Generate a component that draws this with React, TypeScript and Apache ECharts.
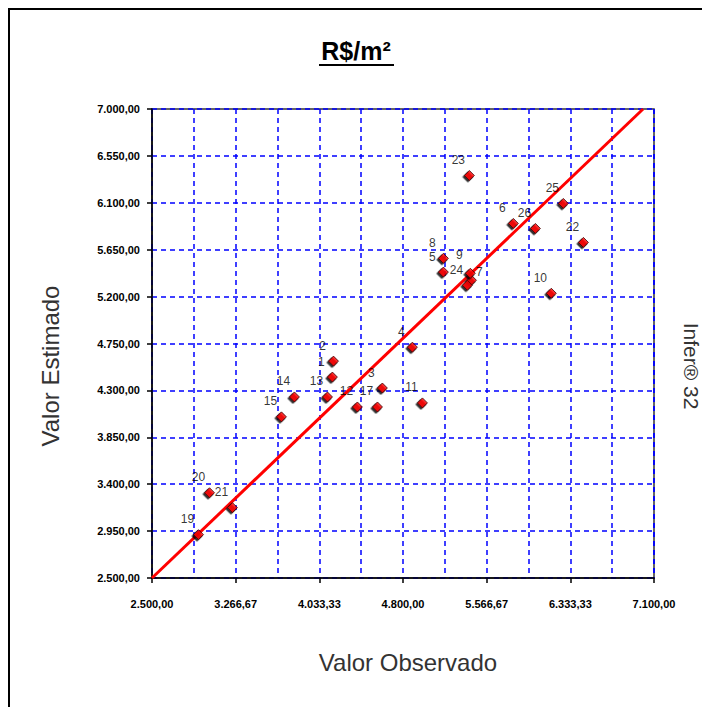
import { useEffect, useRef } from 'react';
import * as echarts from 'echarts';

const pointIds = ['1', '2', '3', '4', '5', '6', '7', '8', '9', '10', '11', '12', '13', '14', '15', '17', '19', '20', '21', '22', '23', '24', '25', '26'];
const observed = [4153, 4163, 4611, 4886, 5170, 5811, 5427, 5170, 5417, 6159, 4978, 4382, 4108, 3805, 3686, 4566, 2926, 3027, 3237, 6453, 5408, 5390, 6269, 6013];
const estimated = [4428, 4581, 4323, 4715, 5435, 5902, 5357, 5567, 5424, 5232, 4180, 4141, 4237, 4237, 4046, 4141, 2916, 3318, 3175, 5720, 6362, 5309, 6094, 5854];

const xRange = [2500, 7100];
const yRange = [2500, 7000];
const xLabelCount = 6;
const yStep = 450;
const identityLine = [2500, 7000];

const titleText = 'R$/m²';
const xName = 'Valor Observado';
const yName = 'Valor Estimado';
const sideText = 'Infer® 32';

const FONT = "Arial, 'Liberation Sans', sans-serif";

function fmt(v: number): string {
  const s = (Math.round(v * 100) / 100).toFixed(2);
  const [i, d] = s.split('.');
  return i.replace(/\B(?=(\d{3})+(?!\d))/g, '.') + ',' + d;
}

export default function App() {
  const ref = useRef<HTMLDivElement>(null);
  useEffect(() => {
    if (!ref.current) return;
    const chart = echarts.init(ref.current, null, { renderer: 'svg' });
    const xStep = (xRange[1] - xRange[0]) / xLabelCount;
    const gridLine = { show: true, lineStyle: { color: '#0000ff', width: 1.5, type: [5, 4] as any } };
    const points = observed.map((x, i) => {
      const item: any = { name: pointIds[i], value: [x, estimated[i]] };
      if (pointIds[i] === '7') item.label = { offset: [8, 7] };
      if (pointIds[i] === '9') item.label = { offset: [-11, -3] };
      return item;
    });
    chart.setOption({
      animation: false,
      backgroundColor: '#ffffff',
      grid: { left: 144, right: 56, top: 101, bottom: 129, show: true, borderColor: '#333', borderWidth: 1.5, backgroundColor: 'transparent' },
      xAxis: [
        {
          type: 'value', min: xRange[0], max: xRange[1], interval: xStep, position: 'bottom',
          axisLine: { show: true, lineStyle: { color: '#000', width: 1.5 } },
          axisTick: { show: true, length: 5, lineStyle: { color: '#000', width: 1.5 } },
          axisLabel: { margin: 20, color: '#000', fontSize: 11, fontWeight: 'bold', fontFamily: FONT, formatter: (v: number) => fmt(v), showMinLabel: true, showMaxLabel: true, hideOverlap: false },
          splitLine: { show: false },
        },
        {
          type: 'value', min: xRange[0], max: xRange[1], interval: xStep / 2, position: 'bottom',
          axisLine: { show: false }, axisTick: { show: false }, axisLabel: { show: false },
          splitLine: gridLine,
        },
      ],
      yAxis: {
        type: 'value', min: yRange[0], max: yRange[1], interval: yStep,
        axisLine: { show: true, lineStyle: { color: '#000', width: 1.5 } },
        axisTick: { show: true, length: 5, lineStyle: { color: '#000', width: 1.5 } },
        axisLabel: { margin: 12, color: '#000', fontSize: 11, fontWeight: 'bold', fontFamily: FONT, formatter: (v: number) => fmt(v) },
        splitLine: gridLine,
      },
      series: [
        {
          type: 'line', xAxisIndex: 0,
          data: [[identityLine[0], identityLine[0]], [identityLine[1], identityLine[1]]],
          showSymbol: false, symbol: 'none',
          lineStyle: { color: '#ff0000', width: 3 },
          silent: true, z: 3,
        },
        {
          type: 'scatter', xAxisIndex: 0,
          data: points,
          symbol: 'diamond', symbolSize: 10,
          itemStyle: { color: '#ff0000', borderColor: '#3a0000', borderWidth: 1, shadowColor: '#000', shadowBlur: 0, shadowOffsetX: -1.5, shadowOffsetY: 1.5 },
          label: { show: true, formatter: '{b}', position: 'top', distance: 4, offset: [-11, 0], color: '#000', fontSize: 12, fontFamily: FONT },
          z: 4,
        },
      ],
      graphic: [
        { type: 'rect', shape: { x: 1, y: 1, width: 760, height: 760 }, style: { fill: 'none', stroke: '#000', lineWidth: 2 }, silent: true },
        { type: 'text', x: 348, y: 43, style: { text: titleText, fill: '#000', font: `bold 25px 'Liberation Sans Narrow', ${FONT}`, align: 'center', verticalAlign: 'middle' } },
        { type: 'line', shape: { x1: 311, y1: 57, x2: 386, y2: 57 }, style: { stroke: '#000', lineWidth: 2 } },
        { type: 'text', x: 400, y: 654, style: { text: xName, fill: '#333', font: `24px ${FONT}`, align: 'center', verticalAlign: 'middle' } },
        { type: 'text', x: 42, y: 358, rotation: Math.PI / 2, style: { text: yName, fill: '#333', font: `24px ${FONT}`, align: 'center', verticalAlign: 'middle' } },
        { type: 'text', x: 683, y: 358, rotation: -Math.PI / 2, style: { text: sideText, fill: '#333', font: `21px ${FONT}`, align: 'center', verticalAlign: 'middle' } },
      ],
    });
    return () => chart.dispose();
  }, []);
  return <div ref={ref} style={{ width: 702, height: 699 }} />;
}
